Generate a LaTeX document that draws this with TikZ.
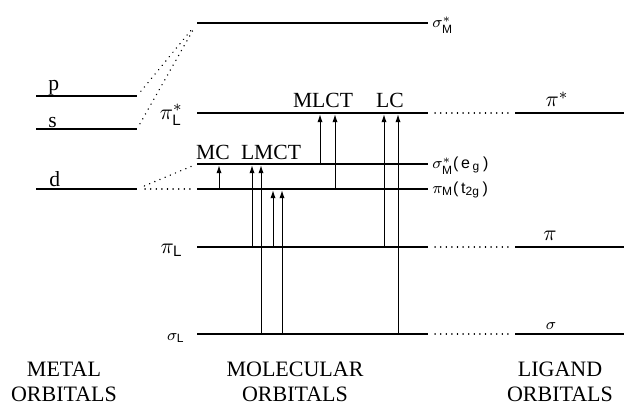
\documentclass[tikz,border=0pt]{standalone}
\usepackage{fontspec}
\setmainfont{Liberation Serif}
\setsansfont{Liberation Sans}
\usetikzlibrary{arrows.meta}

\begin{document}
\begin{tikzpicture}[
    x=0.5pt, y=-0.5pt, >={Latex[length=4pt,width=2.6pt]},
    level/.style={line width=1.15pt},
    link/.style ={line width=0.7pt, dash pattern=on 0.1pt off 2.7pt, line cap=round},
    trans/.style={->, line width=0.5pt, shorten >=0.6pt},
    orb/.style  ={font=\fontsize{10.8}{12}\selectfont, inner sep=0pt},
    tag/.style  ={font=\sffamily\fontsize{8}{9}\selectfont, inner sep=0pt, anchor=west},
    head/.style ={align=center, inner sep=0pt, font=\fontsize{11}{12.5}\selectfont},
]
\useasboundingbox (0,0) rectangle (625,405);
% metal orbitals
\draw[level] (36,96)  coordinate (p) -- (137,96)  coordinate (p-r);
\draw[level] (36,129) coordinate (s) -- (137,129) coordinate (s-r);
\draw[level] (36,189) coordinate (d) -- (137,189) coordinate (d-r);
% molecular orbitals
\draw[level] (197,23)  coordinate (sM)   -- (428,23)  coordinate (sM-r);
\draw[level] (197,113) coordinate (pLs)  -- (428,113) coordinate (pLs-r);
\draw[level] (197,164) coordinate (sMeg) -- (428,164) coordinate (sMeg-r);
\draw[level] (197,189) coordinate (pM)   -- (428,189) coordinate (pM-r);
\draw[level] (197,247) coordinate (pL)   -- (428,247) coordinate (pL-r);
\draw[level] (197,334) coordinate (sL)   -- (428,334) coordinate (sL-r);
% ligand orbitals
\draw[level] (515,113) coordinate (lpis) -- (624,113);
\draw[level] (515,247) coordinate (lpi)  -- (624,247);
\draw[level] (515,334) coordinate (lsig) -- (624,334);

\node[orb, anchor=base west] (p-lab) at ([xshift=6pt,yshift=2.5pt]p) {p};
\node[orb, anchor=base west] (s-lab) at ([xshift=6pt,yshift=0.5pt]s) {s};
\node[orb, anchor=base west] (d-lab) at ([xshift=6.5pt,yshift=1pt]d) {d};

\node[orb, anchor=east] (pLs-lab) at ([xshift=-7pt,yshift=-1pt]pLs) {$\pi^{*}_{\mathsf{L}}$};
\node[orb, anchor=east] (pL-lab)  at ([xshift=-7pt,yshift=-1.5pt]pL) {$\pi_{\mathsf{L}}$};
\node[tag, anchor=east] (sL-lab)  at ([xshift=-6pt,yshift=-2pt]sL) {$\sigma_{\mathsf{L}}$};

\node[tag] (sM-tag)   at ([xshift=2pt,yshift=-1pt]sM-r)   {$\sigma^{*}_{\mathsf{M}}$};
\node[tag] (sMeg-tag) at ([xshift=2pt,yshift=-1pt]sMeg-r) {$\sigma^{*}_{\mathsf{M}}$(\,e\,$_{\mathsf{g}}$\,)};
\node[tag] (pM-tag)   at ([xshift=2pt,yshift=-0.5pt]pM-r) {$\pi_{\mathsf{M}}$(\,t$_{\mathsf{2g}}$\,)};

\node[orb, anchor=base] (lpis-lab) at ([xshift=21pt,yshift=3pt]lpis) {$\pi^{*}$};
\node[orb, anchor=base] (lpi-lab)  at ([xshift=17.5pt,yshift=3pt]lpi) {$\pi$};
\node[tag, anchor=base] (lsig-lab) at ([xshift=18pt,yshift=2.5pt]lsig) {$\sigma$};

\draw[link, shorten <=3pt, shorten >=2.5pt] (p-r) -- (sM);
\draw[link, shorten <=3pt, shorten >=4pt] (s-r) -- (sM);
\draw[link, shorten <=4pt, shorten >=2.5pt] (d-r) -- (sMeg);
\draw[link, shorten <=4pt, shorten >=2.5pt] (d-r) -- (pM);
\draw[link, shorten <=3.5pt, shorten >=2.5pt] (pLs-r) -- (lpis);
\draw[link, shorten <=3.5pt, shorten >=2.5pt] (pL-r) -- (lpi);
\draw[link, shorten <=3.5pt, shorten >=2.5pt] (sL-r) -- (lsig);

\foreach \x/\a/\b in {219/pM/sMeg, 252/pL/sMeg, 261/sL/sMeg, 273/pL/pM, 282/sL/pM,
                      320/sMeg/pLs, 335/pM/pLs, 384/pL/pLs, 398/sL/pLs}
  \draw[trans] (\x,0 |- \a) -- (\x,0 |- \b);

\node[orb, anchor=base] (mlct) at (323,108) {MLCT};
\node[orb, anchor=base] (lc)   at (390,108) {LC};
\node[orb, anchor=base] (mc)   at (213,160) {MC};
\node[orb, anchor=base] (lmct) at (271,160) {LMCT};

\node[head, anchor=north] (metal)  at (64,362)  {METAL\\ORBITALS};
\node[head, anchor=north] (molec)  at (295,362) {MOLECULAR\\ORBITALS};
\node[head, anchor=north] (ligand) at (560,362) {LIGAND\\ORBITALS};
\end{tikzpicture}
\end{document}
